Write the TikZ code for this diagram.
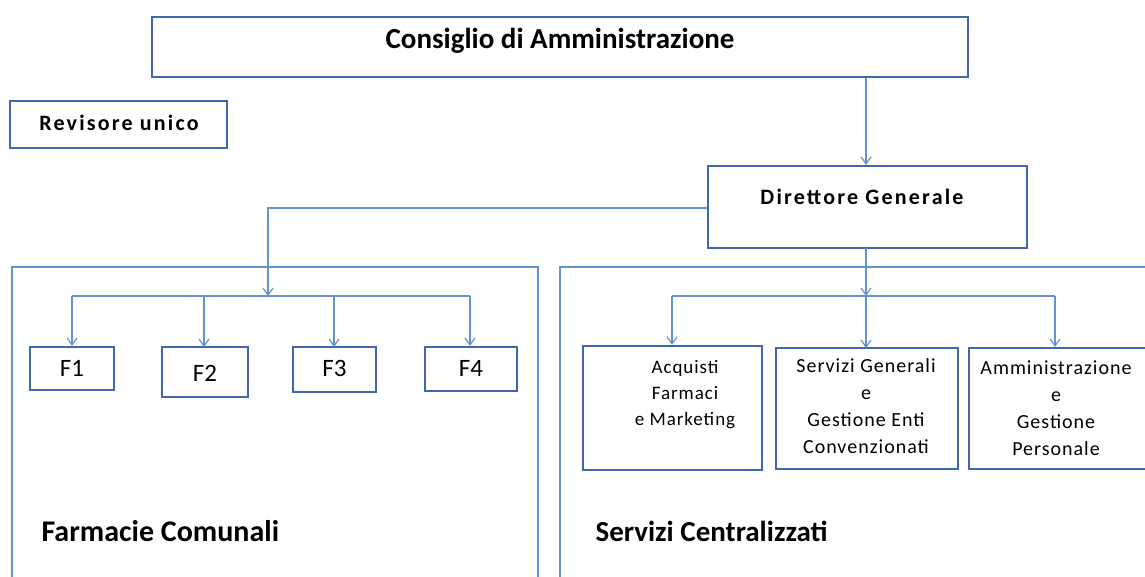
\documentclass[tikz,border=0pt]{standalone}
\usepackage{fontspec}
\setmainfont{Carlito}
\newfontfamily\widefont[LetterSpace=10]{Carlito}
\newfontfamily\midfont[LetterSpace=5]{Carlito}
\usetikzlibrary{arrows.meta}
\definecolor{boxcol}{RGB}{62,104,170}
\definecolor{linecol}{RGB}{100,145,208}
\begin{document}
\begin{tikzpicture}[x=1pt,y=-1pt,
  box/.style={draw=boxcol,line width=2.2pt,fill=white,inner sep=0pt},
  link/.style={draw=linecol,line width=1.5pt},
  arr/.style={link,-{Straight Barb[length=7pt,width=10pt,line width=1.2pt]}},
  frame/.style={draw=linecol,line width=2pt},
  lbl/.style={font=\midfont\fontsize{20}{27}\selectfont,align=center},
  flbl/.style={font=\fontsize{25}{28}\selectfont},
]
\useasboundingbox (0,0) rectangle (1145,577);
% containers
\draw[frame] (12,580) -- (12,267) -- (538,267) -- (538,580);
\draw[frame] (560,580) -- (560,267) -- (1150,267);
% top boxes
\node[box,minimum width=816pt,minimum height=60pt] (cda) at (560,47) {};
\node[font=\fontsize{29}{32}\selectfont\bfseries] (cdat) at (560,41) {Consiglio di Amministrazione};
\node[box,minimum width=217pt,minimum height=47pt] (rev) at (118.5,124.5) {};
\node[font=\widefont\fontsize{22}{26}\selectfont\bfseries] (revt) at (119,123) {Revisore unico};
\node[box,minimum width=319pt,minimum height=82pt] (dg) at (867.5,207) {};
\node[font=\widefont\fontsize{22}{26}\selectfont\bfseries] (dgt) at (862,197) {Direttore Generale};
% F boxes
\node[box,minimum width=84pt,minimum height=43pt] (f1) at (72,368.5) {};
\node[flbl] at (72,368) {F1};
\node[box,minimum width=86pt,minimum height=50pt] (f2) at (205,372) {};
\node[flbl] at (205,373) {F2};
\node[box,minimum width=83pt,minimum height=45pt] (f3) at (334.5,369.5) {};
\node[flbl] at (334.5,368) {F3};
\node[box,minimum width=92pt,minimum height=44pt] (f4) at (471,369) {};
\node[flbl] at (471,368) {F4};
% service boxes
\node[box,minimum width=179pt,minimum height=124pt] (acq) at (672.5,408) {};
\node[lbl,font=\midfont\fontsize{19}{26}\selectfont,anchor=north] at (685,357) {Acquisti\\Farmaci\\e Marketing};
\node[box,minimum width=182pt,minimum height=121pt] (sg) at (867,408.5) {};
\node[lbl,anchor=north] at (866,355) {Servizi Generali\\e\\Gestione Enti\\Convenzionati};
\node[box,minimum width=200pt,minimum height=121pt] (amm) at (1069,408.5) {};
\node[lbl,anchor=north] at (1056,357) {Amministrazione\\e\\Gestione\\Personale};
% section labels
\node[font=\fontsize{30}{34}\selectfont\bfseries,anchor=west] (fc) at (38,531) {Farmacie Comunali};
\node[font=\fontsize{29}{34}\selectfont\bfseries,anchor=west] (sc) at (592,531) {Servizi Centralizzati};
% connectors
\coordinate (fbus) at (268,296);
\coordinate (sbus) at (866,296);
\draw[arr] (cda.south -| dg.north) ++(-1.5,0) coordinate (c1) -- (c1 |- dg.north);
\draw[arr] (dg.west |- 0,208) -| (fbus);
\draw[link] (72,296) coordinate (fl) -- (470,296) coordinate (fr);
\draw[arr] (fl) -- (fl |- f1.north);
\draw[arr] (204,296) -- (204,347);
\draw[arr] (334,296) -- (334,347);
\draw[arr] (fr) -- (fr |- f4.north);
\draw[arr] (866,248) -- (sbus);
\draw[link] (672,296) coordinate (sl) -- (1055,296) coordinate (sr);
\draw[arr] (sl) -- (sl |- acq.north);
\draw[arr] (sbus) -- (866,348);
\draw[arr] (sr) -- (sr |- amm.north);
\end{tikzpicture}
\end{document}
